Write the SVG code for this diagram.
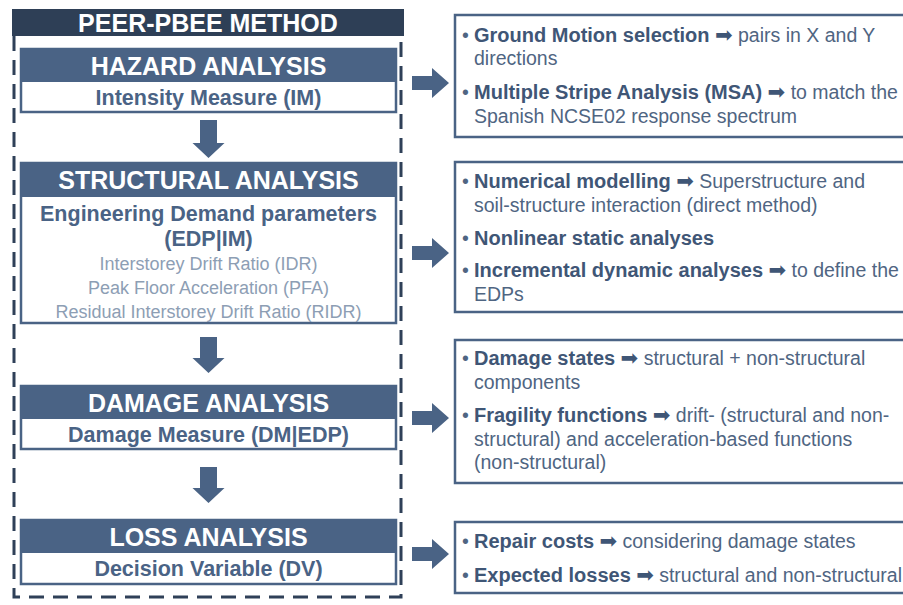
<svg xmlns="http://www.w3.org/2000/svg" width="903" height="605" viewBox="0 0 903 605">
<style>
.hdr{fill:#4a6385}
.box{fill:#fff;stroke:#4a6385;stroke-width:2.5}
.ht{font-family:"Liberation Sans",Arial,sans-serif;font-weight:bold;font-size:25px;fill:#fff;text-anchor:middle}
.st{font-family:"Liberation Sans",Arial,sans-serif;font-weight:bold;font-size:21.5px;fill:#4a6385;text-anchor:middle}
.gt{font-family:"Liberation Sans",Arial,sans-serif;font-size:18px;fill:#8d9eb4;text-anchor:middle}
.rbox{fill:#fff;stroke:#4a6385;stroke-width:2.5}
.rt{font-family:"Liberation Sans",Arial,sans-serif;font-size:19.5px;fill:#4f6582}
.b{font-weight:bold;font-size:20px;fill:#3f5676}
.ar{font-family:"DejaVu Sans",sans-serif;font-size:21px;fill:#3f5676}
.arrow{fill:#4a6385}
</style>
<rect width="903" height="605" fill="#fff"/>
<g id="method">
<path d="M14,36 V597 H401 V36" fill="none" stroke="#2f4058" stroke-width="3" stroke-dasharray="15 9"/>
<rect x="12" y="9" width="392" height="27" fill="#2e3f56"/>
<text class="ht" x="208" y="31.5">PEER-PBEE METHOD</text>
</g>
<g id="hazard">
<rect class="box" x="21" y="49" width="375" height="63"/>
<rect class="hdr" x="21" y="49" width="375" height="33"/>
<text class="ht" x="208.5" y="74.5">HAZARD ANALYSIS</text>
<text class="st" x="208.5" y="104.5">Intensity Measure (IM)</text>
</g>
<g id="structural">
<rect class="box" x="21" y="163" width="375" height="160"/>
<rect class="hdr" x="21" y="163" width="375" height="34"/>
<text class="ht" x="208.5" y="189">STRUCTURAL ANALYSIS</text>
<text class="st" x="208.5" y="221">Engineering Demand parameters</text>
<text class="st" x="208.5" y="246">(EDP|IM)</text>
<text class="gt" x="208.5" y="269.5">Interstorey Drift Ratio (IDR)</text>
<text class="gt" x="208.5" y="293.5">Peak Floor Acceleration (PFA)</text>
<text class="gt" x="208.5" y="317.5">Residual Interstorey Drift Ratio (RIDR)</text>
</g>
<g id="damage">
<rect class="box" x="21" y="386" width="375" height="63"/>
<rect class="hdr" x="21" y="386" width="375" height="33"/>
<text class="ht" x="208.5" y="411.5">DAMAGE ANALYSIS</text>
<text class="st" x="208.5" y="441.5">Damage Measure (DM|EDP)</text>
</g>
<g id="loss">
<rect class="box" x="21" y="520" width="375" height="64"/>
<rect class="hdr" x="21" y="520" width="375" height="33"/>
<text class="ht" x="208.5" y="545.5">LOSS ANALYSIS</text>
<text class="st" x="208.5" y="576">Decision Variable (DV)</text>
</g>
<g id="hazard-notes">
<rect class="rbox" x="455" y="15" width="470" height="122"/>
<text class="rt" x="462" y="41.5">•<tspan x="474" class="b">Ground Motion selection</tspan> <tspan class="ar">➡</tspan> pairs in X and Y</text>
<text class="rt" x="474" y="65">directions</text>
<text class="rt" x="462" y="99">•<tspan x="474" class="b">Multiple Stripe Analysis (MSA)</tspan> <tspan class="ar">➡</tspan> to match the</text>
<text class="rt" x="474" y="122.5">Spanish NCSE02 response spectrum</text>
</g>
<g id="structural-notes">
<rect class="rbox" x="455" y="162" width="470" height="150"/>
<text class="rt" x="462" y="187.5">•<tspan x="474" class="b">Numerical modelling</tspan> <tspan class="ar">➡</tspan> Superstructure and</text>
<text class="rt" x="474" y="211.5">soil-structure interaction (direct method)</text>
<text class="rt" x="462" y="244.5">•<tspan x="474" class="b">Nonlinear static analyses</tspan></text>
<text class="rt" x="462" y="276.5">•<tspan x="474" class="b">Incremental dynamic analyses</tspan> <tspan class="ar">➡</tspan> to define the</text>
<text class="rt" x="474" y="300.5">EDPs</text>
</g>
<g id="damage-notes">
<rect class="rbox" x="455" y="340" width="470" height="143"/>
<text class="rt" x="462" y="364.5">•<tspan x="474" class="b">Damage states</tspan> <tspan class="ar">➡</tspan> structural + non-structural</text>
<text class="rt" x="474" y="388.5">components</text>
<text class="rt" x="462" y="421.5">•<tspan x="474" class="b">Fragility functions</tspan> <tspan class="ar">➡</tspan> drift- (structural and non-</text>
<text class="rt" x="474" y="445.5">structural) and acceleration-based functions</text>
<text class="rt" x="474" y="469">(non-structural)</text>
</g>
<g id="loss-notes">
<rect class="rbox" x="455" y="522" width="470" height="71"/>
<text class="rt" x="462" y="548">•<tspan x="474" class="b">Repair costs</tspan> <tspan class="ar">➡</tspan> considering damage states</text>
<text class="rt" x="462" y="581.5">•<tspan x="474" class="b">Expected losses</tspan> <tspan class="ar">➡</tspan> structural and non-structural</text>
</g>
<g id="connectors">
<path class="arrow" d="M200,120 H217 V143 H224.5 L208.5,158 L192.5,143 H200 Z"/>
<path class="arrow" d="M200,337 H217 V358 H224.5 L208.5,373 L192.5,358 H200 Z"/>
<path class="arrow" d="M200,467 H217 V488 H224.5 L208.5,503 L192.5,488 H200 Z"/>
<path class="arrow" d="M412,76 H432 V68 L449,83 L432,98 V90 H412 Z"/>
<path class="arrow" d="M412,246 H432 V238 L449,253 L432,268 V260 H412 Z"/>
<path class="arrow" d="M412,411 H432 V403 L449,418 L432,433 V425 H412 Z"/>
<path class="arrow" d="M412,547 H432 V539 L449,554 L432,569 V561 H412 Z"/>
</g>
</svg>
